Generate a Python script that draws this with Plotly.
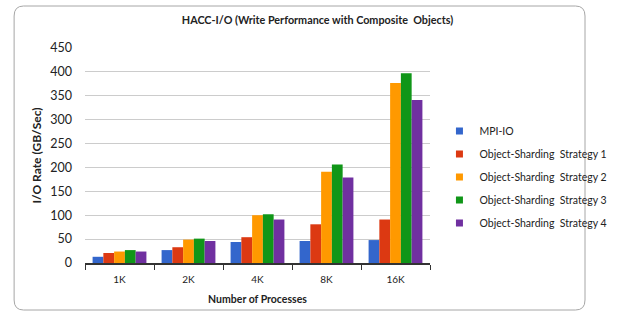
import plotly.graph_objects as go

categories = ["1K", "2K", "4K", "8K", "16K"]
mpi_io = [13, 27, 44, 46, 48]
strategy1 = [21, 33, 54, 81, 91]
strategy2 = [24, 49, 100, 191, 377]
strategy3 = [27, 51, 102, 206, 397]
strategy4 = [24, 46, 91, 179, 341]
y_ticks = [0, 50, 100, 150, 200, 250, 300, 350, 400, 450]

series = [
    ("MPI-IO", mpi_io, "#3366CC"),
    ("Object-Sharding  Strategy 1", strategy1, "#DC3912"),
    ("Object-Sharding  Strategy 2", strategy2, "#FF9900"),
    ("Object-Sharding  Strategy 3", strategy3, "#109618"),
    ("Object-Sharding  Strategy 4", strategy4, "#7030A0"),
]

FONT = "Lato, 'Open Sans', sans-serif"
W, H = 624, 318
L, R, T, B = 85, 174, 48, 55
pw, ph = W - L - R, H - T - B

def px(x):
    return (x - L) / pw

def py(y):
    return (H - B - y) / ph

fig = go.Figure()
for i, (name, vals, col) in enumerate(series):
    fig.add_trace(go.Bar(
        x=categories, y=vals, name=name, marker_color=col,
        marker_line_width=0, showlegend=False,
    ))
# legend entries (small square swatches)
for i, (name, vals, col) in enumerate(series):
    fig.add_trace(go.Scatter(
        x=[None], y=[None], mode="markers", name=name,
        marker=dict(symbol="square", size=7, color=col),
        legendgroup=str(i), showlegend=True,
    ))

# rounded border
x0, x1, y0, y1, r = 10, 614, 6, 310, 10
path = (f"M {px(x0+r)} {py(y0)} L {px(x1-r)} {py(y0)} "
        f"Q {px(x1)} {py(y0)} {px(x1)} {py(y0+r)} L {px(x1)} {py(y1-r)} "
        f"Q {px(x1)} {py(y1)} {px(x1-r)} {py(y1)} L {px(x0+r)} {py(y1)} "
        f"Q {px(x0)} {py(y1)} {px(x0)} {py(y1-r)} L {px(x0)} {py(y0+r)} "
        f"Q {px(x0)} {py(y0)} {px(x0+r)} {py(y0)} Z")
fig.add_shape(type="path", path=path, xref="paper", yref="paper",
              line=dict(color="#A6A6A6", width=1), layer="below")

fig.update_layout(
    width=W, height=H,
    margin=dict(l=L, r=R, t=T, b=B),
    paper_bgcolor="white", plot_bgcolor="white",
    font=dict(family=FONT, color="#222222"),
    title=dict(text="<b>HACC-I/O (Write Performance with Composite  Objects)</b>",
               xref="container", x=317.5 / W, xanchor="center",
               yref="container", y=1 - 20.5 / H, yanchor="middle",
               font=dict(size=10.8, color="#222222")),
    barmode="group", bargap=0.22, bargroupgap=0,
    showlegend=True,
    legend=dict(x=px(460), y=py(116.5), xanchor="left", yanchor="top",
                font=dict(size=10.5, color="#222222"), tracegroupgap=4,
                itemwidth=30, bgcolor="rgba(0,0,0,0)"),
    xaxis=dict(
        title=dict(text="<b>Number of Processes</b>", font=dict(size=10.5), standoff=12),
        tickfont=dict(size=10), showgrid=False,
        showline=True, linecolor="#333333", linewidth=1.5,
        ticks="outside", tickson="boundaries", ticklen=5, tickcolor="#333333",
        ticklabelstandoff=6,
    ),
    yaxis=dict(
        title=dict(text="<b>I/O Rate (GB/Sec)</b>", font=dict(size=12), standoff=6),
        range=[0, 450], tickvals=y_ticks, tickfont=dict(size=12.5),
        showgrid=True, gridcolor="#CCCCCC", gridwidth=1,
        zeroline=False, showline=False, ticks="", ticklabelstandoff=12,
    ),
)

fig.write_html("out.html", config={"displayModeBar": False},
               post_script="document.body.style.margin='0';")
